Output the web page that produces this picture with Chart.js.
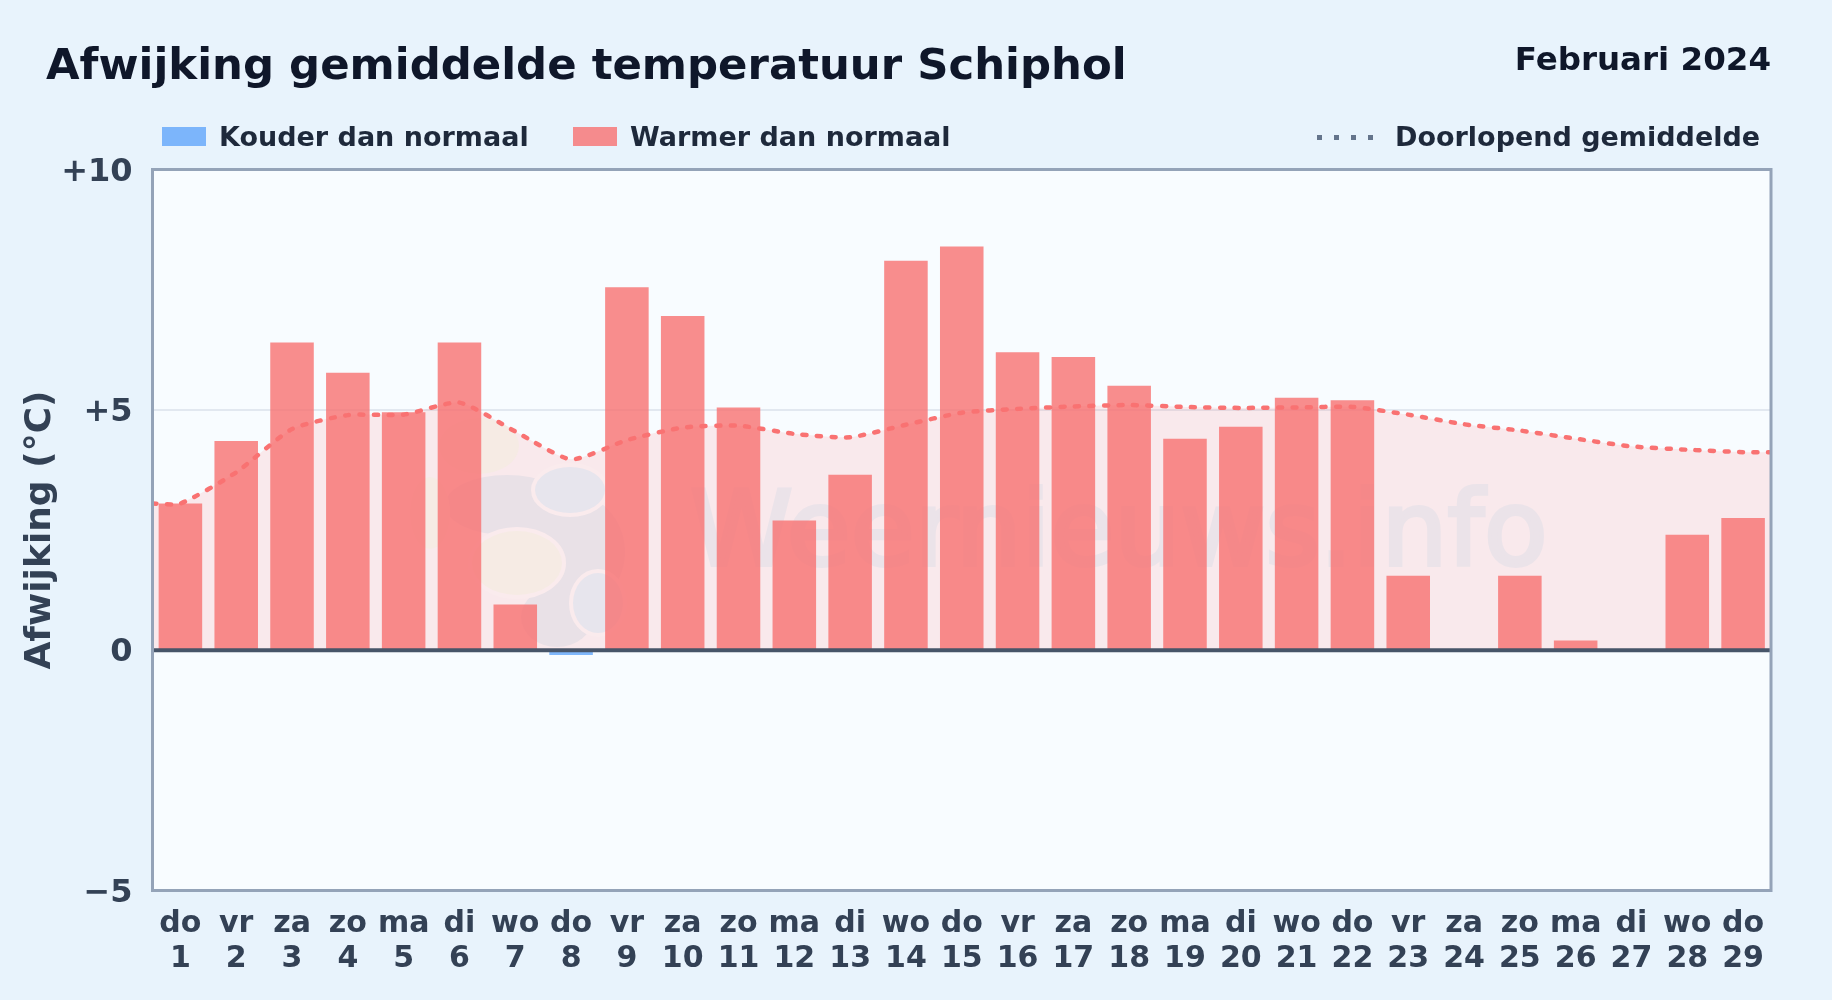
<!DOCTYPE html>
<html lang="nl">
<head>
<meta charset="utf-8">
<title>Afwijking gemiddelde temperatuur Schiphol</title>
<script src="https://cdn.jsdelivr.net/npm/chart.js@4/dist/chart.umd.js"></script>
<style>
html, body { margin: 0; padding: 0; background: #e8f3fc; overflow: hidden; }
#wrap { position: relative; width: 1832px; height: 1000px; font-family: "DejaVu Sans", sans-serif; font-weight: bold; }
#chart { position: absolute; left: 0; top: 0; }
.txt { position: absolute; white-space: nowrap; line-height: 1; }
#title { left: 46px; top: 43px; font-size: 43.4px; color: #0f172a; }
#period { right: 61px; top: 43px; font-size: 32.5px; color: #0f172a; }
.leg { font-size: 27px; color: #1e293b; top: 123px; }
.swatch { position: absolute; top: 127px; width: 44px; height: 19px; }
.dots { position: absolute; top: 135px; left: 1317px; width: 56px; height: 5px;
  background: repeating-linear-gradient(90deg, #64748b 0 5px, transparent 5px 17px); }
</style>
</head>
<body>
<div id="wrap">
  <canvas id="chart" width="1832" height="1000"></canvas>
  <div class="txt" id="title">Afwijking gemiddelde temperatuur Schiphol</div>
  <div class="txt" id="period">Februari 2024</div>
  <div class="swatch" style="left:162px;background:rgba(96,165,250,0.8)"></div>
  <div class="txt leg" style="left:219px">Kouder dan normaal</div>
  <div class="swatch" style="left:573px;background:rgba(248,113,113,0.8)"></div>
  <div class="txt leg" style="left:630px">Warmer dan normaal</div>
  <div class="dots"></div>
  <div class="txt leg" style="left:1395px">Doorlopend gemiddelde</div>
</div>
<script>
"use strict";
var weekdays = ['do','vr','za','zo','ma','di','wo','do','vr','za','zo','ma','di','wo','do','vr','za','zo','ma','di','wo','do','vr','za','zo','ma','di','wo','do'];
var days = [1,2,3,4,5,6,7,8,9,10,11,12,13,14,15,16,17,18,19,20,21,22,23,24,25,26,27,28,29];
var deviation = [3.05,4.35,6.4,5.77,4.95,6.4,0.95,-0.1,7.55,6.95,5.05,2.7,3.65,8.1,8.4,6.2,6.1,5.5,4.4,4.65,5.25,5.2,1.55,0,1.55,0.2,0,2.4,2.75];
var runningMean = [3.05,3.7,4.6,4.89,4.9,5.15,4.55,3.97,4.37,4.63,4.67,4.5,4.43,4.69,4.94,5.02,5.07,5.1,5.06,5.04,5.05,5.06,4.9,4.7,4.57,4.4,4.24,4.17,4.12];
var yTicks = [-5, 0, 5, 10];

var tickColor = '#334155';
var firstDay = days[0] - 0.5, lastDay = days[days.length - 1] + 0.5;

var barPoints = days.map(function(d, i) { return {x: d, y: deviation[i]}; });

// line runs out to the plot edges, half a day past first and last day
var linePoints = days.map(function(d, i) { return {x: d, y: runningMean[i]}; });
linePoints.unshift({x: firstDay, y: runningMean[0]});
linePoints.push({x: lastDay, y: runningMean[runningMean.length - 1]});

function blob(ctx, x, y, rx, ry, color, halo) {
    ctx.beginPath();
    ctx.ellipse(x, y, rx, ry, 0, 0, Math.PI * 2);
    if (halo) {
        ctx.lineWidth = 8;
        ctx.strokeStyle = '#faebed';
        ctx.stroke();
    }
    ctx.fillStyle = color;
    ctx.fill();
}

var plotFrame = {
    id: 'plotFrame',
    beforeDraw: function(chart) {
        var a = chart.chartArea, ctx = chart.ctx;
        ctx.save();
        ctx.fillStyle = '#f8fcff';
        ctx.fillRect(a.left, a.top, a.width, a.height);
        ctx.restore();
    },
    // watermark, sits between the area fill and the bars
    beforeDatasetsDraw: function(chart) {
        var ctx = chart.ctx;
        var grey = '#e9e1e7', beige = '#f6ebe4', blue = '#e7e5ed';
        ctx.save();
        blob(ctx, 507, 505, 62, 30, grey);
        blob(ctx, 567, 552, 58, 60, grey);
        blob(ctx, 557, 617, 36, 30, grey);
        blob(ctx, 479, 446, 40, 28, beige);
        blob(ctx, 430, 513, 20, 36, beige);
        blob(ctx, 570, 490, 35, 23, blue, true);
        blob(ctx, 517, 563, 45, 32, beige, true);
        blob(ctx, 598, 603, 25, 30, blue, true);
        ctx.font = '104px "DejaVu Sans"';
        ctx.textAlign = 'left';
        ctx.textBaseline = 'alphabetic';
        ctx.fillStyle = '#ebe3e9';
        ctx.fillText('Weernieuws.info', 690, 565);
        ctx.strokeStyle = '#ebe3e9';
        ctx.lineWidth = 4;
        ctx.strokeText('Weernieuws.info', 690, 565);
        ctx.restore();
    },
    afterDraw: function(chart) {
        var a = chart.chartArea, ctx = chart.ctx;
        var zero = chart.scales.y.getPixelForValue(0);
        ctx.save();
        ctx.strokeStyle = '#475569';
        ctx.lineWidth = 4;
        ctx.beginPath();
        ctx.moveTo(a.left, zero);
        ctx.lineTo(a.right, zero);
        ctx.stroke();
        ctx.strokeStyle = '#94a3b8';
        ctx.lineWidth = 3;
        ctx.strokeRect(a.left, a.top, a.width, a.height);
        ctx.restore();
    }
};

var chart = new Chart(document.getElementById('chart').getContext('2d'), {
    data: {
        datasets: [{
            type: 'line',
            label: 'Doorlopend gemiddelde',
            data: linePoints,
            order: 1,
            borderColor: '#f97272',
            borderWidth: 4.5,
            borderDash: [4, 10.5],
            borderCapStyle: 'round',
            tension: 0.2,
            pointRadius: 0,
            backgroundColor: 'rgba(255,107,107,0.13)',
            fill: {target: 'origin'}
        }, {
            type: 'bar',
            label: 'Afwijking',
            data: barPoints,
            order: 2,
            backgroundColor: deviation.map(function(v) {
                return v < 0 ? 'rgba(96,165,250,0.8)' : 'rgba(248,113,113,0.8)';
            }),
            borderWidth: 0,
            barPercentage: 0.78,
            categoryPercentage: 1
        }]
    },
    options: {
        responsive: false,
        animation: false,
        layout: {padding: {top: 169.5, right: 61, left: 0, bottom: 0}},
        plugins: {
            legend: {display: false},
            tooltip: {enabled: false},
            filler: {drawTime: 'beforeDatasetsDraw'}
        },
        scales: {
            x: {
                type: 'linear',
                offset: false,
                min: firstDay,
                max: lastDay,
                afterBuildTicks: function(axis) {
                    axis.ticks = days.map(function(d) { return {value: d}; });
                },
                grid: {display: false},
                border: {display: false},
                ticks: {
                    color: tickColor,
                    font: {family: '"DejaVu Sans"', size: 30, weight: 'bold', lineHeight: 1.14},
                    padding: 9,
                    maxRotation: 0,
                    autoSkip: false,
                    callback: function(v) { return [weekdays[days.indexOf(v)], String(v)]; }
                },
                afterFit: function(axis) { axis.height = 109.5; }
            },
            y: {
                min: -5,
                max: 10,
                afterBuildTicks: function(axis) {
                    axis.ticks = yTicks.map(function(v) { return {value: v}; });
                },
                grid: {
                    color: function(ctx) { return ctx.tick && ctx.tick.value === 5 ? '#e2e8f0' : 'transparent'; },
                    lineWidth: 2,
                    drawTicks: false
                },
                border: {display: false},
                ticks: {
                    color: tickColor,
                    font: {family: '"DejaVu Sans"', size: 32, weight: 'bold'},
                    padding: 20,
                    labelOffset: 3,
                    callback: function(v) {
                        if (v > 0) return '+' + v;
                        if (v < 0) return '\u2212' + Math.abs(v);
                        return '0';
                    }
                },
                title: {
                    display: true,
                    text: 'Afwijking (\u00b0C)',
                    color: tickColor,
                    font: {family: '"DejaVu Sans"', size: 36, weight: 'bold'},
                    padding: {top: 19, bottom: 0}
                },
                afterFit: function(axis) { axis.width = 152.5; }
            }
        }
    },
    plugins: [plotFrame]
});
</script>
</body>
</html>
